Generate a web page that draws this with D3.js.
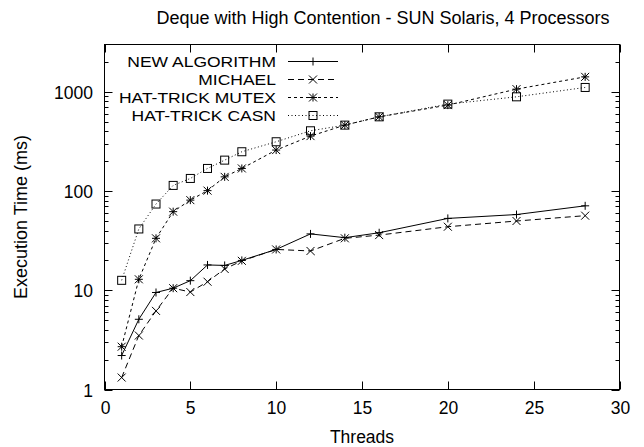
<!DOCTYPE html>
<html><head><meta charset="utf-8">
<script src="https://cdn.jsdelivr.net/npm/d3@7"></script>
<style>body{margin:0;background:#fff}svg{display:block}text{font-family:"Liberation Sans",Arial,sans-serif;fill:#000}</style>
</head><body>
<svg id="c" width="644" height="447"></svg>
<script>
const threads = [1,2,3,4,5,6,7,8,10,12,14,16,20,24,28];
const newAlgorithm = [2.2,5.1,9.5,10.5,12.5,18,17.8,20,25.8,37,33.9,38,53,58,71];
const michael = [1.32,3.5,6.2,10.5,9.6,12.2,16.4,19.8,25.8,24.9,33.4,36,43.7,49.9,56.5];
const hatTrickMutex = [2.7,12.9,33.4,62,81,101,139,169,259,358,462,560,735,1065,1416];
const hatTrickCasn = [12.6,41.5,74,114,134,169,205,249,314,405,462,560,752,891,1107];
const seriesNames = ["NEW ALGORITHM","MICHAEL","HAT-TRICK MUTEX","HAT-TRICK CASN"];
const xTicks = [0,5,10,15,20,25,30];
const yTicks = [1,10,100,1000];
const title = "Deque with High Contention - SUN Solaris, 4 Processors";

const svg = d3.select("#c");
const L=104.5, R=619.5, T=44.5, B=389.5;
const x = d3.scaleLinear().domain([0,30]).range([L,R]);
const y = d3.scaleLog().domain([1,3000]).range([B,T]);
const FS=17.5;

const g = svg.append("g");
const minors=[];
for (let d=1; d<=1000; d*=10) for (let k=2;k<=9;k++){ const v=d*k; if(v<3000) minors.push(v);}
minors.forEach(v=>{
  const yy=Math.round(y(v))+0.5;
  g.append("line").attr("x1",L).attr("x2",L+4).attr("y1",yy).attr("y2",yy).attr("stroke","#000");
  g.append("line").attr("x1",R).attr("x2",R-4).attr("y1",yy).attr("y2",yy).attr("stroke","#000");
});
yTicks.forEach(v=>{
  const yy=Math.round(y(v))+0.5;
  g.append("line").attr("x1",L).attr("x2",L+8).attr("y1",yy).attr("y2",yy).attr("stroke","#000");
  g.append("line").attr("x1",R).attr("x2",R-8).attr("y1",yy).attr("y2",yy).attr("stroke","#000");
  g.append("text").attr("x",93).attr("y",yy+6).attr("text-anchor","end").attr("font-size",FS).text(v);
});
xTicks.forEach(v=>{
  const xx=Math.round(x(v))+0.5;
  g.append("line").attr("x1",xx).attr("x2",xx).attr("y1",B).attr("y2",B-8).attr("stroke","#000");
  g.append("line").attr("x1",xx).attr("x2",xx).attr("y1",T).attr("y2",T+8).attr("stroke","#000");
  g.append("text").attr("x",xx).attr("y",414).attr("text-anchor","middle").attr("font-size",FS).text(v);
});
g.append("rect").attr("x",L).attr("y",T).attr("width",R-L).attr("height",B-T).attr("fill","none").attr("stroke","#000");

svg.append("text").attr("x",383).attr("y",24).attr("text-anchor","middle").attr("font-size",18).text(title);
svg.append("text").attr("x",362).attr("y",443).attr("text-anchor","middle").attr("font-size",FS).text("Threads");
svg.append("text").attr("transform","translate(27,217) rotate(-90)").attr("text-anchor","middle").attr("font-size",18).text("Execution Time (ms)");

const data=[newAlgorithm,michael,hatTrickMutex,hatTrickCasn];
const dashes=[null,"6,4","3,3","1,2.5"];
const line=d3.line().x(d=>x(d[0])).y(d=>y(d[1]));
function marker(sel,type,cx,cy){
  const s=4;
  const p=sel.append("g").attr("transform",`translate(${cx},${cy})`).attr("stroke","#000").attr("fill","none").attr("stroke-width",1);
  if(type===0||type===2){p.append("path").attr("d",`M${-s},0H${s}M0,${-s}V${s}`);}
  if(type===1||type===2){p.append("path").attr("d",`M${-s},${-s}L${s},${s}M${-s},${s}L${s},${-s}`);}
  if(type===3){p.append("rect").attr("x",-4).attr("y",-4).attr("width",8).attr("height",8);}
}
data.forEach((vals,i)=>{
  const pts=threads.map((t,j)=>[t,vals[j]]);
  svg.append("path").datum(pts).attr("d",line).attr("fill","none").attr("stroke","#000").attr("stroke-width",1)
    .attr("stroke-dasharray",dashes[i]);
  pts.forEach(p=>marker(svg,i,x(p[0]),y(p[1])));
  const ly=61.5+i*18;
  svg.append("text").attr("transform",`translate(276,${ly+5.5}) scale(1.13,1)`).attr("text-anchor","end").attr("font-size",15.5).text(seriesNames[i]);
  svg.append("line").attr("x1",288).attr("x2",338).attr("y1",ly).attr("y2",ly).attr("stroke","#000").attr("stroke-dasharray",dashes[i]);
  marker(svg,i,313,ly);
});
</script>
</body></html>
